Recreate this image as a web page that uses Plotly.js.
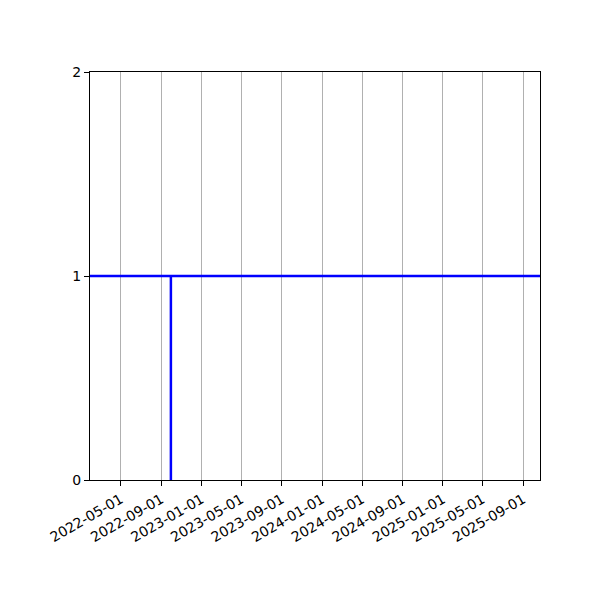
<!DOCTYPE html>
<html>
<head>
<meta charset="utf-8">
<script src="https://cdn.plot.ly/plotly-3.0.1.min.js"></script>
<style>
  html, body { margin: 0; padding: 0; background: #ffffff; }
  #chart { width: 600px; height: 600px; }
</style>
</head>
<body>
<div id="chart"></div>
<script>
// series: level 1 with a single drop to 0 around 2022-09-30
const dates = ['2022-01-28', '2022-09-30', '2022-09-30', '2022-09-30', '2025-10-22'];
const values = [1, 1, 0, 1, 1];

// axis ticks
const xTicks = ['2022-05-01', '2022-09-01', '2023-01-01', '2023-05-01', '2023-09-01',
  '2024-01-01', '2024-05-01', '2024-09-01', '2025-01-01', '2025-05-01', '2025-09-01'];
const yTicks = [0, 1, 2];
const xRange = ['2022-01-28', '2025-10-22'];
const yRange = [0, 2];

const trace = {
  x: dates,
  y: values,
  type: 'scatter',
  mode: 'lines',
  line: { color: '#0000ff', width: 2.5 },
  hoverinfo: 'skip'
};

const font = { family: 'DejaVu Sans, sans-serif', size: 14, color: '#000000' };

const layout = {
  width: 600,
  height: 600,
  margin: { l: 90, r: 60, t: 72, b: 120 },
  paper_bgcolor: '#ffffff',
  plot_bgcolor: '#ffffff',
  showlegend: false,
  font: font,
  xaxis: {
    type: 'date',
    range: xRange,
    tickmode: 'array',
    tickvals: xTicks,
    ticktext: xTicks,
    tickangle: -30,
    ticks: 'outside',
    ticklen: 5,
    tickwidth: 1,
    tickcolor: '#000000',
    showgrid: true,
    gridcolor: '#b0b0b0',
    gridwidth: 1,
    showline: true,
    linecolor: '#000000',
    linewidth: 1,
    mirror: true,
    zeroline: false,
    tickfont: font
  },
  yaxis: {
    range: yRange,
    tickmode: 'array',
    tickvals: yTicks,
    ticktext: yTicks.map(String),
    ticks: 'outside',
    ticklen: 5,
    tickwidth: 1,
    tickcolor: '#000000',
    showgrid: false,
    showline: true,
    linecolor: '#000000',
    linewidth: 1,
    mirror: true,
    zeroline: false,
    tickfont: font
  }
};

Plotly.newPlot('chart', [trace], layout, { displayModeBar: false, staticPlot: true });
</script>
</body>
</html>
